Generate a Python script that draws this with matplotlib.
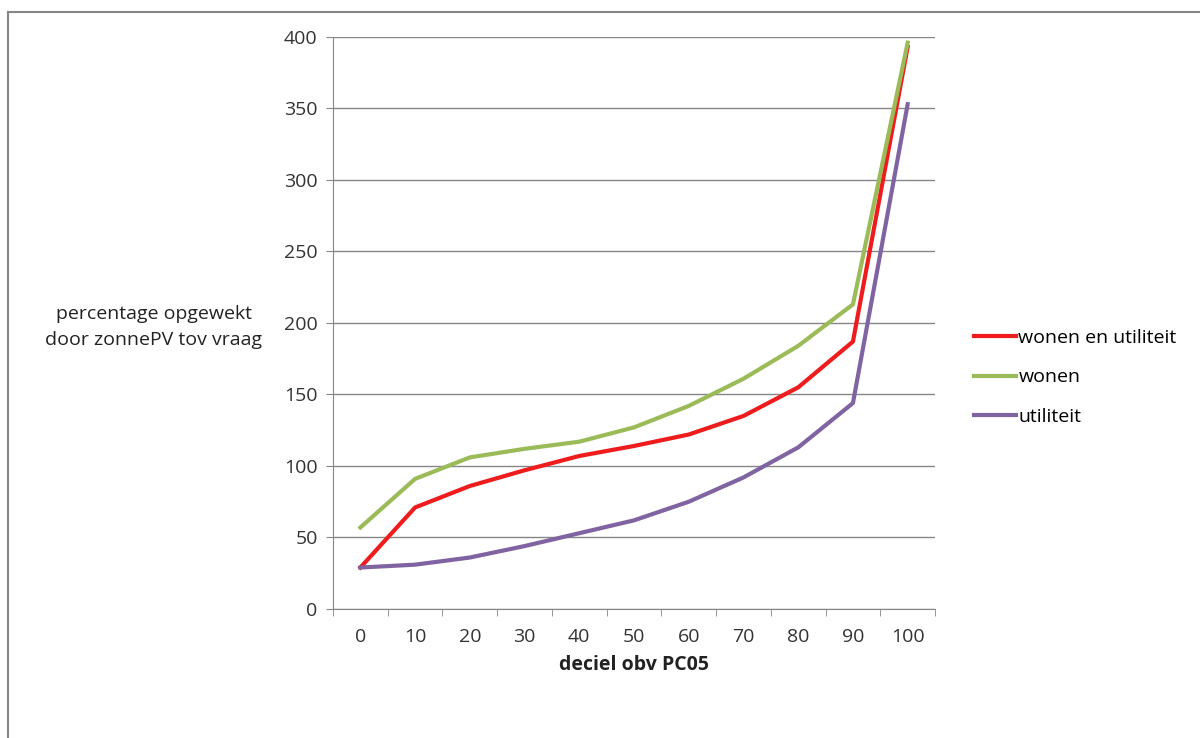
import matplotlib
matplotlib.use('Agg')
import matplotlib.pyplot as plt
from matplotlib.lines import Line2D

plt.rcParams['font.family'] = ['Open Sans', 'DejaVu Sans']

deciles = ['0', '10', '20', '30', '40', '50', '60', '70', '80', '90', '100']
wonen_en_utiliteit = [29, 71, 86, 97, 107, 114, 122, 135, 155, 187, 393]
wonen = [57, 91, 106, 112, 117, 127, 142, 161, 184, 213, 396]
utiliteit = [29, 31, 36, 44, 53, 62, 75, 92, 113, 144, 353]

series = [
    ('wonen en utiliteit', wonen_en_utiliteit, '#ee1c1c'),
    ('wonen', wonen, '#9bbb59'),
    ('utiliteit', utiliteit, '#8064a2'),
]

fig = plt.figure(figsize=(12, 7.38), dpi=100)
ax = fig.add_axes([0.2775, 0.1748, 0.5017, 0.7751])

x = list(range(len(deciles)))
for name, vals, col in series:
    ax.plot(x, vals, color=col, lw=3, label=name, solid_joinstyle='round')

ax.set_xlim(-0.5, len(deciles) - 0.5)
ax.set_ylim(0, 400)
ax.set_yticks(range(0, 401, 50))
ax.set_xticks(x)
ax.set_xticklabels(deciles)
ax.set_xticks([i - 0.5 for i in range(len(deciles) + 1)], minor=True)
ax.tick_params(axis='x', which='major', length=0, pad=14, labelsize=14, colors='#333333')
ax.tick_params(axis='x', which='minor', length=5, color='#868686', direction='out')
ax.tick_params(axis='y', length=5, color='#868686', pad=6, labelsize=14, colors='#333333')
ax.grid(axis='y', color='#868686', lw=1)
ax.set_axisbelow(True)
for s in ['top', 'right']:
    ax.spines[s].set_visible(False)
for s in ['left', 'bottom']:
    ax.spines[s].set_color('#868686')

ax.set_xlabel('deciel obv PC05', fontsize=14, fontweight='bold', labelpad=6, color='#222222')
fig.text(0.128, 0.557, 'percentage opgewekt\ndoor zonnePV tov vraag',
         ha='center', va='center', fontsize=14, linespacing=1.55, color='#222222')

ax.legend(loc='center left', bbox_to_anchor=(1.035, 0.405), frameon=False,
          fontsize=14, handlelength=2.2, handletextpad=0.1, labelspacing=1.1)

# outer chart frame (only left and top edges visible in the crop)
fig.add_artist(Line2D([8 / 1200, 8 / 1200], [0, 1 - 12 / 738], transform=fig.transFigure,
                      color='#868686', lw=1.5))
fig.add_artist(Line2D([8 / 1200, 1], [1 - 12 / 738, 1 - 12 / 738], transform=fig.transFigure,
                      color='#868686', lw=1.5))

plt.savefig('out.png', dpi=100)
